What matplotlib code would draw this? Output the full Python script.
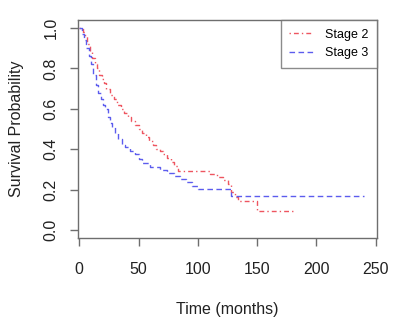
import matplotlib
matplotlib.use("Agg")
import matplotlib.pyplot as plt

plt.rcParams['font.family'] = ['Liberation Sans', 'DejaVu Sans']

# Kaplan-Meier step estimates
stage2_time = [0, 3, 5, 7, 9, 11, 13, 15, 17, 19, 21, 23, 26, 29, 32, 35, 38, 41, 44, 47,
               50, 53, 56, 59, 62, 65, 68, 71, 74, 77, 80, 83, 104, 110, 116, 121, 125,
               128, 131, 134, 150, 180]
stage2_surv = [1.0, 0.98, 0.96, 0.92, 0.88, 0.85, 0.82, 0.80, 0.77, 0.75, 0.73, 0.70, 0.67,
               0.65, 0.62, 0.60, 0.58, 0.56, 0.54, 0.52, 0.50, 0.48, 0.46, 0.44, 0.42, 0.40,
               0.39, 0.375, 0.355, 0.335, 0.315, 0.29, 0.29, 0.275, 0.26, 0.245, 0.23,
               0.19, 0.165, 0.142, 0.094, 0.094]

stage3_time = [0, 2, 4, 6, 8, 10, 12, 14, 16, 18, 20, 22, 24, 26, 28, 30, 33, 36, 39, 43,
               47, 50, 53, 60, 68, 74, 80, 85, 90, 95, 100, 128, 240]
stage3_surv = [1.0, 0.97, 0.94, 0.90, 0.86, 0.82, 0.77, 0.72, 0.68, 0.65, 0.62, 0.60, 0.56,
               0.53, 0.51, 0.48, 0.45, 0.42, 0.41, 0.39, 0.375, 0.35, 0.33, 0.31, 0.295,
               0.28, 0.265, 0.25, 0.235, 0.22, 0.205, 0.168, 0.168]

x_ticks = [0, 50, 100, 150, 200, 250]
y_ticks = [0.0, 0.2, 0.4, 0.6, 0.8, 1.0]

fig = plt.figure(figsize=(4.18, 3.36), dpi=100)
ax = fig.add_axes([78 / 418, 1 - 238 / 336, (377 - 78) / 418, (238 - 20) / 336])

red = '#ee5560'
blue = '#5c5cee'
ax.step(stage2_time, stage2_surv, where='post', color=red, lw=1.0,
        dashes=(1, 2.2, 3.5, 2.2), label='Stage 2')
ax.step(stage3_time, stage3_surv, where='post', color=blue, lw=1.0,
        dashes=(4, 2.5), label='Stage 3')

ax.set_xlim(-1, 251)
ax.set_ylim(-0.04, 1.04)
ax.set_xticks(x_ticks)
ax.set_xticklabels([str(v) for v in x_ticks])
ax.set_yticks(y_ticks)
ax.set_yticklabels(['%.1f' % v for v in y_ticks], rotation=90, va='center')

for s in ax.spines.values():
    s.set_color('#6e6e6e')
    s.set_linewidth(1.0)
ax.tick_params(direction='out', length=6, width=1.0, color='#6e6e6e',
               labelsize=11.5, labelcolor='#222222')
ax.tick_params(axis='x', pad=11)
ax.tick_params(axis='y', pad=8)

ax.set_xlabel('Time (months)', fontsize=11.5, color='#222222', labelpad=18)
ax.set_ylabel('Survival Probability', fontsize=11.5, color='#222222', labelpad=14)

leg = ax.legend(loc='upper right', borderaxespad=0, fancybox=False, fontsize=9,
                handlelength=1.9, handletextpad=0.95, borderpad=0.7, labelspacing=0.5,
                edgecolor='#6e6e6e')
leg.get_frame().set_linewidth(1.0)

fig.savefig('out.png', dpi=100)
